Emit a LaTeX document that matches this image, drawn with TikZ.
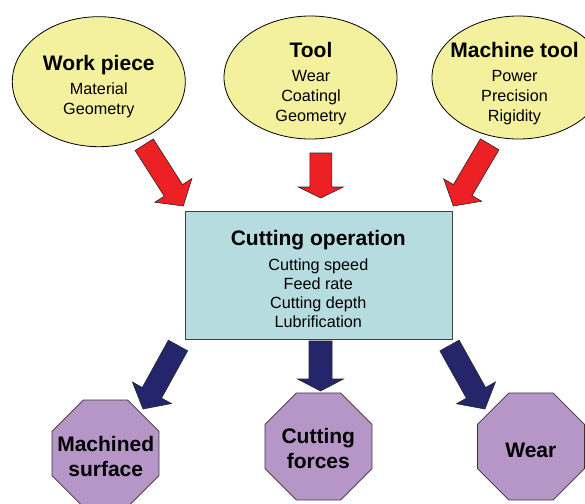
\documentclass[tikz,border=0pt]{standalone}
\usepackage{fontspec}
\setmainfont{Liberation Sans}
\usetikzlibrary{calc,shapes.geometric}

\definecolor{factorfill}{HTML}{F3F09E}
\definecolor{inarrow}{HTML}{ED2024}
\definecolor{opfill}{HTML}{B6DCDF}
\definecolor{resultfill}{HTML}{B596C7}
\definecolor{outarrow}{HTML}{25256B}

% Block arrow: #1 style, #2 tail, #3 tip, #4 half shaft width,
% #5 half head width, #6 head length
\newcommand{\blockarrow}[6]{%
  \coordinate (headbase) at ($(#3)!#6!(#2)$);
  \draw[#1] ($(#2)!#4!90:(#3)$) -- ($(headbase)!#4!90:(#3)$)
    -- ($(headbase)!#5!90:(#3)$) -- (#3)
    -- ($(headbase)!#5!-90:(#3)$) -- ($(headbase)!#4!-90:(#3)$)
    -- ($(#2)!#4!-90:(#3)$) -- cycle;
}

\tikzset{
  factor/.style={ellipse, draw=black, line width=0.8pt, fill=factorfill,
    minimum width=173pt, inner sep=0pt},
  opbox/.style={rectangle, draw=black!75, line width=1pt, fill=opfill,
    minimum width=267pt, minimum height=128pt, inner sep=0pt},
  result/.style={regular polygon, regular polygon sides=8, draw=black!80,
    line width=0.8pt, fill=resultfill, minimum size=115.8pt, inner sep=0pt},
  title/.style={font=\fontsize{21}{25}\selectfont\bfseries, anchor=base, inner sep=0pt},
  item/.style={font=\fontsize{16.2}{19}\selectfont, anchor=base, inner sep=0pt},
  redarrow/.style={fill=inarrow, draw=black!85, line width=0.6pt, line join=miter},
  bluearrow/.style={fill=outarrow, draw=black!85, line width=0.6pt, line join=miter}
}

\begin{document}
\begin{tikzpicture}[x=1pt,y=-1pt]
\useasboundingbox (0,0) rectangle (585,503);

% input factors
\node[factor, minimum height=130pt] (work) at (98.8,81.7) {};
\node[factor, minimum height=123pt] (tool) at (310.5,77.5) {};
\node[factor, minimum height=123pt] (machine) at (518.5,77.5) {};

\node[title] (workT)  at (98.8,70)   {Work piece};
\node[item]  (workA)  at (98.8,94.3) {Material};
\node[item]  (workB)  at (98.8,114.3) {Geometry};

\node[title] (toolT)  at (311,57.3)  {Tool};
\node[item]  (toolA)  at (311,81)    {Wear};
\node[item]  (toolB)  at (311,101.5) {Coatingl};
\node[item]  (toolC)  at (311,121.5) {Geometry};

\node[title] (machT)  at (514.5,57.3)  {Machine tool};
\node[item]  (machA)  at (514.5,81)    {Power};
\node[item]  (machB)  at (514.5,101.5) {Precision};
\node[item]  (machC)  at (514.5,121.5) {Rigidity};

% the operation
\node[opbox] (op) at (318.5,275) {};
\node[title] (opT) at (318.3,245)   {Cutting operation};
\node[item]  (opA) at (318.3,270.3) {Cutting speed};
\node[item]  (opB) at (318.3,289.5) {Feed rate};
\node[item]  (opC) at (318.3,308.6) {Cutting depth};
\node[item]  (opD) at (318.3,327.8) {Lubrification};

% results
\node[result] (surface) at (105.5,453.5) {};
\node[result] (forces)  at (318.5,446.5) {};
\node[result] (wear)    at (531,446.5)   {};

\node[title] (surfaceA) at (105.7,451) {Machined};
\node[title] (surfaceB) at (105.7,476) {surface};
\node[title] (forcesA)  at (318.3,443) {Cutting};
\node[title] (forcesB)  at (318.3,468) {forces};
\node[title] (wearA)    at (530.8,457) {Wear};

% arrow ends
\coordinate (workOut)    at (144.2,144.7);
\coordinate (opInLeft)   at (183.3,206);
\coordinate (toolOut)    at (320.8,153);
\coordinate (opInMid)    at (320.8,198);
\coordinate (machineOut) at (489.7,144.3);
\coordinate (opInRight)  at (453.3,206);

\coordinate (opOutLeft)  at (178,345.5);
\coordinate (surfaceIn)  at (143,409);
\coordinate (opOutMid)   at (320.5,341);
\coordinate (forcesIn)   at (320.5,391);
\coordinate (opOutRight) at (449.5,345.5);
\coordinate (wearIn)     at (485,409);

% red arrows into the operation
\blockarrow{redarrow}{workOut}{opInLeft}{10.8pt}{22pt}{18.5pt}
\blockarrow{redarrow}{toolOut}{opInMid}{11pt}{22.5pt}{11pt}
\blockarrow{redarrow}{machineOut}{opInRight}{10.8pt}{22pt}{18.5pt}

% blue arrows out of the operation
\blockarrow{bluearrow}{opOutLeft}{surfaceIn}{11pt}{22.3pt}{18.5pt}
\blockarrow{bluearrow}{opOutMid}{forcesIn}{11.5pt}{23pt}{12pt}
\blockarrow{bluearrow}{opOutRight}{wearIn}{11pt}{22.3pt}{18.5pt}
\end{tikzpicture}
\end{document}
